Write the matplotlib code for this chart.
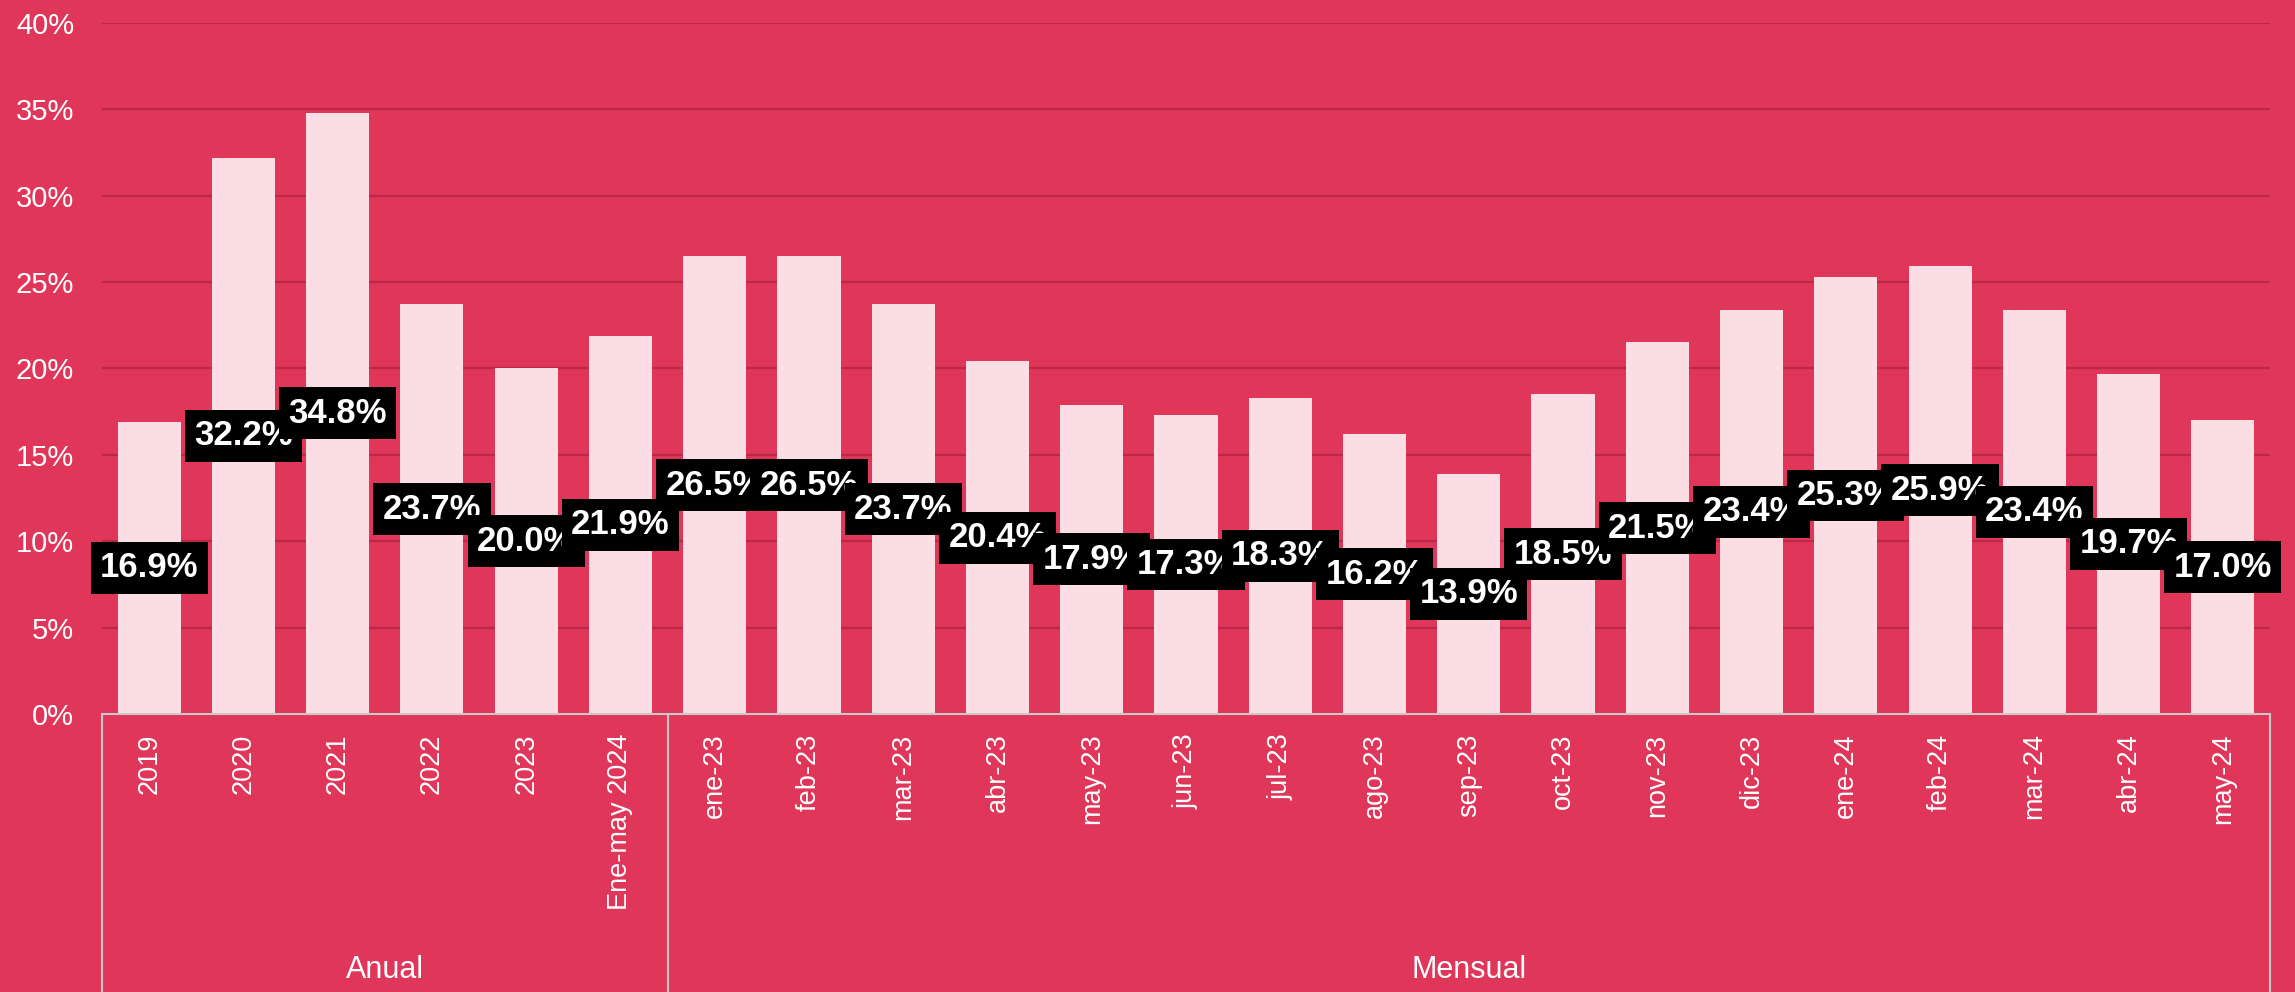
import matplotlib
matplotlib.use("Agg")
import matplotlib.pyplot as plt
import matplotlib.transforms as mtransforms
from matplotlib.ticker import FuncFormatter, MultipleLocator

categories = ["2019", "2020", "2021", "2022", "2023", "Ene-may 2024",
              "ene-23", "feb-23", "mar-23", "abr-23", "may-23", "jun-23",
              "jul-23", "ago-23", "sep-23", "oct-23", "nov-23", "dic-23",
              "ene-24", "feb-24", "mar-24", "abr-24", "may-24"]
values = [16.9, 32.2, 34.8, 23.7, 20.0, 21.9,
          26.5, 26.5, 23.7, 20.4, 17.9, 17.3,
          18.3, 16.2, 13.9, 18.5, 21.5, 23.4,
          25.3, 25.9, 23.4, 19.7, 17.0]
groups = ["Anual", "Mensual"]
group_sizes = [6, 17]

BG = "#DF3659"
BAR = "#FBDEE3"
GRID = "#BC2848"
AXC = "#C9C9C9"

plt.rcParams['font.family'] = ['Liberation Sans', 'DejaVu Sans']

fig = plt.figure(figsize=(22.95, 9.92), dpi=100, facecolor=BG)
ax = fig.add_axes([102/2295, 1-714/992, (2270-102)/2295, (714-22.7)/992])
ax.set_facecolor(BG)

x = list(range(len(categories)))
ax.bar(x, values, width=0.67, color=BAR, zorder=2)
ax.set_xlim(-0.5, len(categories)-0.5)
ax.set_ylim(0, 40)
ax.yaxis.set_major_locator(MultipleLocator(5))
ax.yaxis.set_major_formatter(FuncFormatter(lambda v, p: f"{v:.0f}%"))
ax.grid(axis='y', color=GRID, linewidth=1.6, zorder=1)
ax.set_axisbelow(True)
for s in ['top', 'right', 'left']:
    ax.spines[s].set_visible(False)
ax.spines['bottom'].set_color(AXC)
ax.spines['bottom'].set_linewidth(1.5)
ax.spines['bottom'].set_zorder(3)

ax.tick_params(axis='y', length=0, pad=20, labelsize=21, labelcolor='white')
ax.set_xticks(x)
ax.set_xticklabels(categories, rotation=90, fontsize=19.5, color='white')
ax.tick_params(axis='x', length=0, pad=14)
for lab in ax.get_xticklabels():
    lab.set_verticalalignment('top')

# data labels
for xi, v in zip(x, values):
    ax.text(xi, v/2, f"{v:.1f}%", ha='center', va='center', fontsize=25,
            fontweight='bold', color='white', zorder=5,
            bbox=dict(boxstyle='square,pad=0.27', facecolor='black', edgecolor='none'))

# group box lines
trans = mtransforms.blended_transform_factory(ax.transData, ax.transAxes)
bottom_ax = -(992-714)/(714-22.7)
edges = [-0.5]
for gs in group_sizes:
    edges.append(edges[-1] + gs)
for e in edges:
    ax.plot([e, e], [0, bottom_ax], transform=trans, color=AXC, linewidth=1.5,
            clip_on=False, zorder=3)
start = -0.5
for g, gs in zip(groups, group_sizes):
    ax.text(start + gs/2, -(970-714)/(714-22.7), g, transform=trans, ha='center',
            va='center', fontsize=22, color='white',
            family=['Liberation Sans Narrow', 'Liberation Sans', 'DejaVu Sans'])
    start += gs

fig.savefig("out.png", dpi=100, facecolor=BG)
